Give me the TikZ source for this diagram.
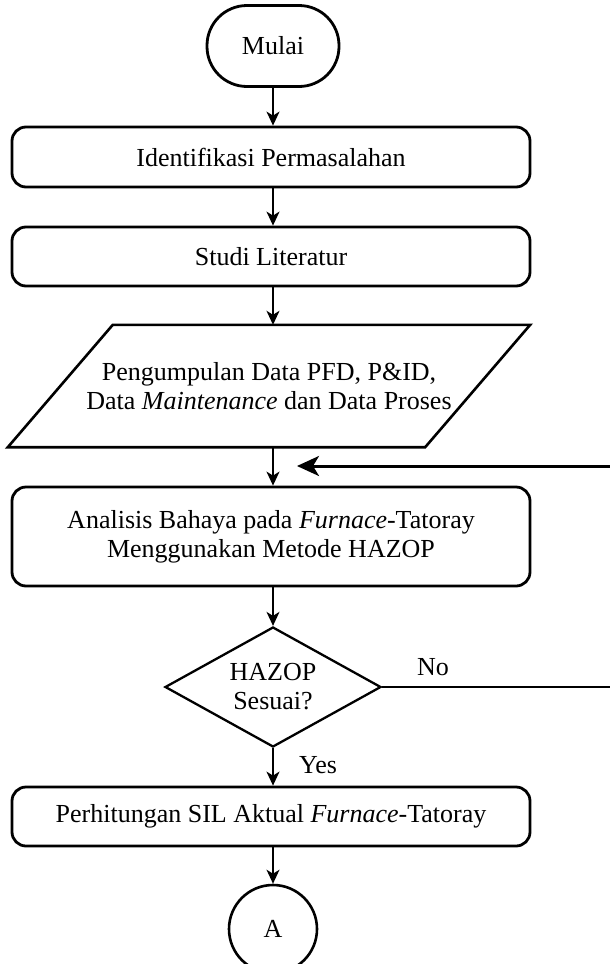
\documentclass[tikz,border=0pt]{standalone}
\usepackage{fontspec}
\setmainfont{Liberation Serif}
\usetikzlibrary{shapes.geometric, arrows.meta}
\begin{document}
\begin{tikzpicture}[x=1pt, y=-1pt,
  every node/.style={font=\fontsize{26}{29}\selectfont},
  terminal/.style={draw, line width=2.8pt, rounded corners=40pt, inner sep=0pt},
  procbox/.style={draw, line width=2.8pt, rounded corners=14pt, minimum width=518pt, inner sep=0pt, align=center},
  decision/.style={draw, diamond, shape aspect=1.8, line width=2.3pt, minimum width=216pt, minimum height=120pt, inner sep=0pt, align=center},
  connector/.style={draw, circle, line width=2.6pt, minimum size=88pt, inner sep=0pt},
  flow/.style={line width=1.5pt, -{Stealth[length=14pt, width=13pt, inset=4pt]}},
  backflow/.style={line width=3pt, -{Stealth[length=22pt, width=20pt, inset=6pt]}},
  plain/.style={line width=2.8pt}
]
\useasboundingbox[fill=white] (0,0) rectangle (610,964);

% main column
\node[terminal, minimum width=132pt, minimum height=81pt] (mulai) at (273,46) {Mulai};
\node[procbox, minimum height=60pt] (ident) at (271,157) {Identifikasi Permasalahan};
\node[procbox, minimum height=59pt] (studi) at (271,256.5) {Studi Literatur};
\node[inner sep=0pt, minimum width=522pt, minimum height=122pt, align=center] (data) at (269,386)
  {Pengumpulan Data PFD, P\&ID,\\Data \textit{Maintenance} dan Data Proses};
\draw[line width=2.6pt, line join=miter]
  ([xshift=105pt]data.north west) -- (data.north east)
  -- ([xshift=-105pt]data.south east) -- (data.south west) -- cycle;
\node[procbox, minimum height=99pt] (hazop) at (271,536.5)
  {Analisis Bahaya pada \textit{Furnace}-Tatoray\\Menggunakan Metode HAZOP};
\node[decision] (cek) at (273,687) {HAZOP\\Sesuai?};
\node[procbox, minimum height=59pt] (sil) at (271,816.5)
  {Perhitungan SIL Aktual \textit{Furnace}-Tatoray};
\node[connector] (A) at (273,929) {A};

% branch labels
\node (no) at (433,667) {No};
\node (yes) at (318,765) {Yes};

% loose ends of the loop-back line
\coordinate (noEnd) at (610,687);
\coordinate (backStart) at (610,466);
\coordinate (backTip) at (297,466);

% connectors
\draw[flow] (mulai.south) -- (mulai.south |- ident.north);
\draw[flow] (ident.south -| mulai) -- (studi.north -| mulai);
\draw[flow] (studi.south -| mulai) -- (data.north -| mulai);
\draw[flow] (data.south -| mulai) -- (hazop.north -| mulai);
\draw[flow] (hazop.south -| cek) -- (cek.north);
\draw[flow] (cek.south) -- (sil.north -| cek);
\draw[flow] (sil.south -| A) -- (A.north);
\draw[plain] (cek.east) -- (noEnd);
\draw[backflow] (backStart) -- (backTip);
\end{tikzpicture}
\end{document}
